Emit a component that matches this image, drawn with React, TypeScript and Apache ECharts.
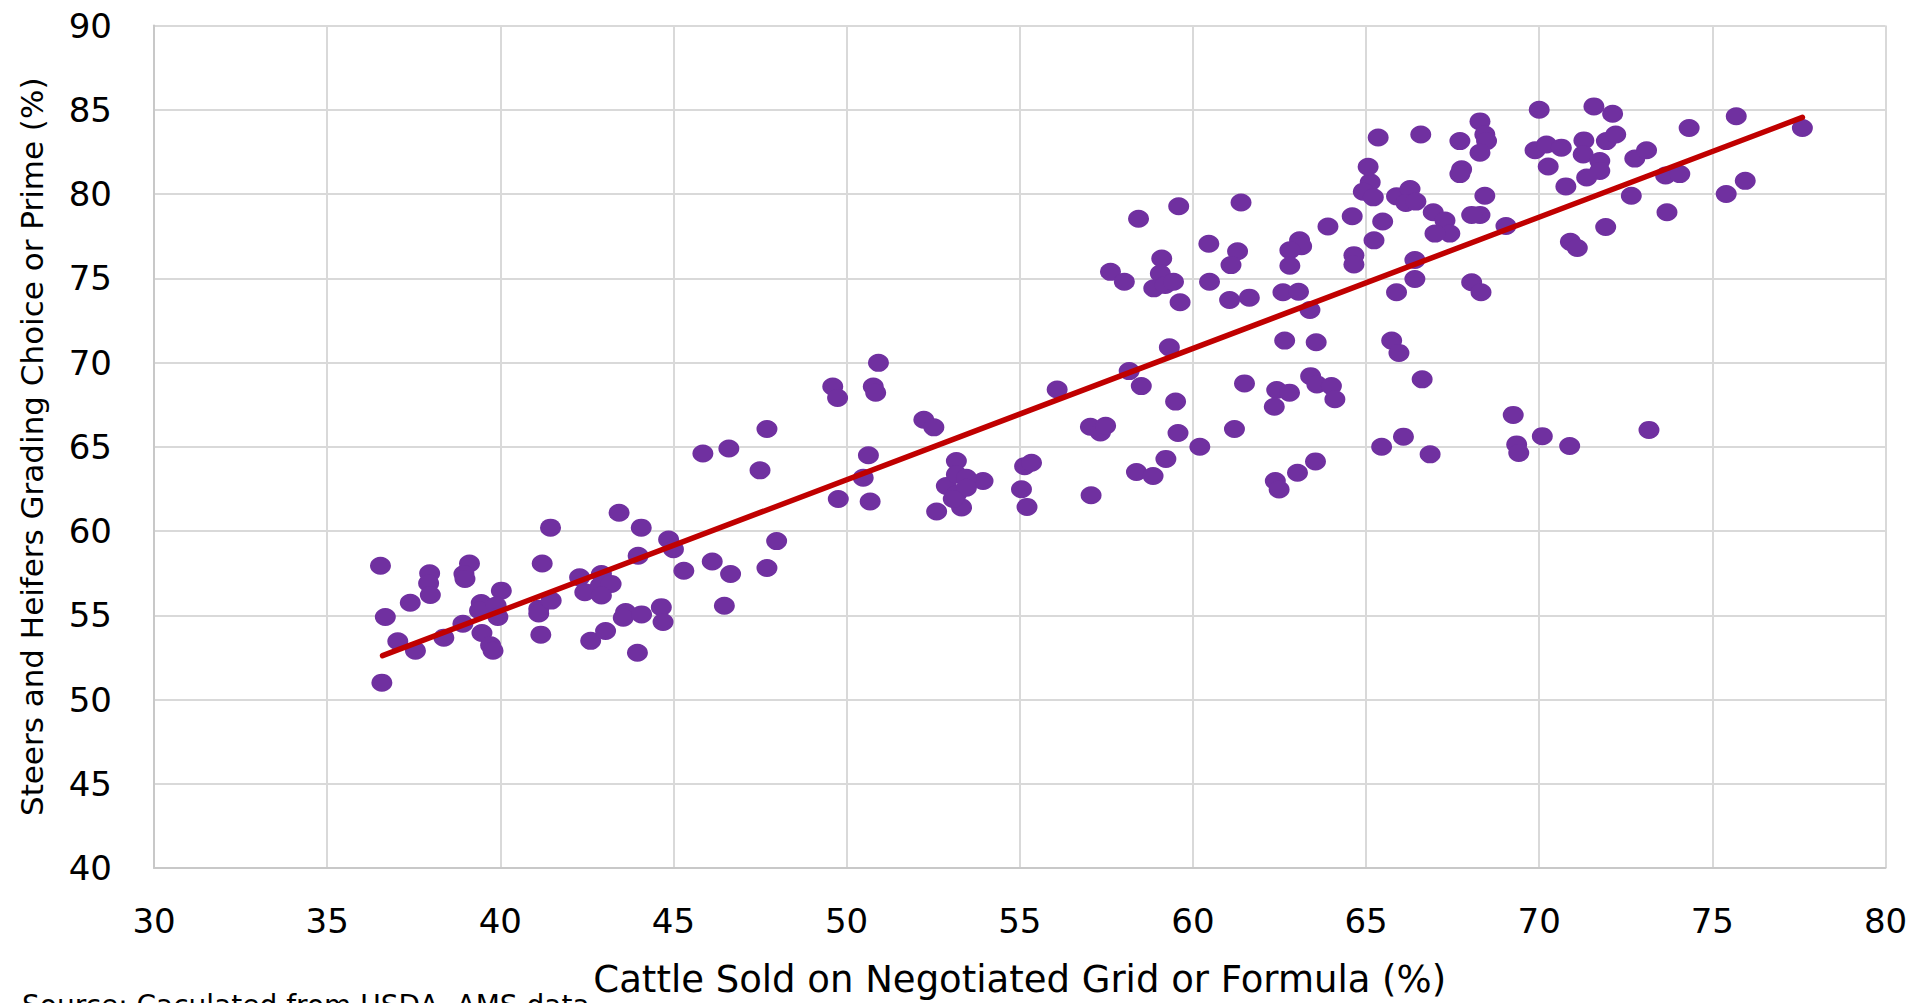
import React, { useEffect, useRef } from "react";
import * as echarts from "echarts";

// Cattle sold on negotiated grid or formula (%)
const cattleGridPct = [
  36.54, 36.58, 36.68, 37.04, 37.55, 37.4, 37.96, 37.93, 37.98, 38.37,
  38.92, 39.11, 38.95, 38.98, 40.03, 39.45, 39.4, 39.88, 39.93, 39.47,
  39.72, 39.79, 41.45, 41.21, 41.11, 41.11, 41.47, 41.17, 42.29, 42.44,
  42.61, 42.92, 42.89, 43.2, 42.92, 43.43, 44.07, 43.98, 43.04, 43.62,
  43.55, 44.08, 43.96, 44.86, 45.0, 45.3, 44.65, 44.7, 46.12, 46.65,
  46.47, 45.85, 46.6, 47.7, 47.5, 47.98, 47.7, 49.6, 49.74, 50.92,
  50.77, 50.84, 52.23, 52.52, 50.63, 50.48, 49.76, 50.68, 56.08, 53.17,
  53.94, 52.6, 53.32, 52.88, 53.17, 53.46, 53.17, 53.46, 53.08, 55.14,
  55.34, 55.05, 55.21, 58.43, 59.59, 61.39, 57.62, 58.02, 59.1, 59.06,
  58.87, 59.2, 59.44, 59.63, 60.46, 60.48, 61.29, 61.1, 61.06, 61.63,
  63.08, 63.14, 62.8, 62.8, 62.6, 63.05, 63.38, 63.9, 64.6, 64.65,
  64.65, 65.23, 65.48, 65.12, 64.92, 65.21, 65.88, 65.88, 65.74, 65.95,
  59.32, 58.16, 58.51, 59.5, 57.04, 57.33, 57.48, 59.57, 60.2, 61.2,
  59.22, 58.37, 58.85, 57.06, 61.49, 62.65, 63.56, 63.4, 63.58, 64.0,
  64.1, 62.42, 62.79, 62.35, 63.54, 63.02, 62.38, 62.49, 65.45, 66.08,
  65.06, 65.35, 66.58, 68.29, 67.71, 68.43, 68.48, 68.29, 67.76, 67.71,
  66.27, 66.15, 66.44, 66.94, 67.28, 67.42, 66.99, 68.43, 68.29, 68.05,
  66.41, 69.04, 70.0, 69.88, 70.21, 70.64, 71.58, 72.12, 71.29, 71.27,
  71.75, 71.75, 71.37, 71.94, 72.21, 70.26, 70.77, 72.76, 73.1, 72.66,
  73.65, 74.06, 74.33, 73.69, 75.69, 75.95, 75.4, 77.6, 71.92, 70.9,
  71.1, 66.41, 68.05, 68.32, 66.62, 69.25, 70.09, 69.35, 69.41, 70.88,
  73.17, 66.85,
];

// Steers and heifers grading Choice or Prime (%)
const choicePrimePct = [
  57.94, 51.0, 54.9, 53.46, 52.9, 55.74, 57.49, 56.9, 56.2, 53.67,
  54.5, 58.07, 57.45, 57.15, 56.46, 55.72, 55.28, 55.58, 54.9, 53.95,
  53.22, 52.9, 60.2, 58.07, 55.38, 55.1, 55.87, 53.85, 57.25, 56.37,
  53.48, 57.45, 56.76, 56.86, 56.17, 61.08, 60.2, 58.53, 54.07, 55.19,
  54.85, 55.05, 52.77, 59.5, 58.92, 57.64, 55.48, 54.6, 58.19, 57.45,
  55.56, 64.6, 64.9, 66.05, 63.6, 59.4, 57.8, 68.57, 67.9, 69.98,
  68.57, 68.2, 66.6, 66.15, 64.5, 63.16, 61.9, 61.75, 68.4, 64.15,
  62.97, 61.16, 61.4, 62.67, 63.36, 63.16, 62.18, 62.57, 61.9, 63.85,
  64.05, 62.48, 61.43, 78.53, 79.27, 79.5, 75.38, 74.79, 76.17, 75.28,
  74.4, 74.6, 74.79, 73.58, 77.05, 74.79, 76.6, 75.78, 73.71, 73.85,
  77.25, 76.9, 76.66, 75.74, 74.17, 74.2, 73.12, 78.07, 78.68, 76.37,
  75.82, 77.25, 78.37, 80.69, 80.14, 79.8, 79.86, 74.17, 71.3, 70.57,
  70.9, 69.49, 68.6, 67.68, 66.19, 65.85, 66.25, 65.82, 65.0, 66.05,
  64.28, 63.5, 63.26, 62.12, 68.76, 71.3, 71.2, 69.19, 68.7, 68.6,
  67.82, 68.37, 68.21, 67.37, 64.13, 63.46, 62.97, 62.46, 65.0, 65.6,
  81.62, 83.35, 83.53, 84.31, 83.14, 83.53, 83.14, 82.45, 81.47, 81.18,
  80.29, 79.47, 79.55, 78.92, 78.43, 77.65, 77.65, 79.9, 78.76, 78.76,
  76.08, 78.1, 85.0, 82.6, 82.94, 82.75, 85.2, 84.76, 83.18, 82.35,
  81.96, 81.37, 80.98, 83.14, 83.53, 81.63, 80.45, 82.1, 82.6, 79.9,
  81.1, 81.18, 83.92, 78.92, 84.61, 80.78, 80.0, 83.92, 78.04, 77.16,
  76.8, 74.96, 74.76, 74.17, 69.0, 66.89, 65.63, 65.14, 64.63, 65.04,
  66.0, 64.55,
];

// Linear trend line end points
const trendX = [36.6, 77.6];
const trendY = [52.6, 84.55];

const xAxisTitle = "Cattle Sold on Negotiated Grid or Formula (%)";
const yAxisTitle = "Steers and Heifers Grading Choice or Prime (%)";
const sourceNote = "Source: Caculated from USDA, AMS data";

const FONT = "DejaVu Sans";

export default function App() {
  const ref = useRef<HTMLDivElement>(null);

  useEffect(() => {
    document.body.style.margin = "0";
    if (!ref.current) return;
    const chart = echarts.init(ref.current, null, { renderer: "svg" });
    const points = cattleGridPct.map((x, i) => [x, choicePrimePct[i]]);
    const trend = trendX.map((x, i) => [x, trendY[i]]);
    chart.setOption({
      animation: false,
      backgroundColor: "#ffffff",
      grid: { left: 154, right: 35.5, top: 25.5, bottom: 130.7, containLabel: false },
      xAxis: {
        type: "value",
        min: 30,
        max: 80,
        interval: 5,
        name: xAxisTitle,
        nameLocation: "middle",
        nameGap: 93,
        nameTextStyle: { fontFamily: FONT, fontSize: 37, color: "#000" },
        axisLine: { show: true, lineStyle: { color: "#C8C8C8", width: 2 } },
        axisTick: { show: false },
        axisLabel: { fontFamily: FONT, fontSize: 34, color: "#000", margin: 36 },
        splitLine: { show: true, lineStyle: { color: "#D9D9D9", width: 2 } },
      },
      yAxis: {
        type: "value",
        min: 40,
        max: 90,
        interval: 5,
        name: yAxisTitle,
        nameLocation: "middle",
        nameGap: 107,
        nameTextStyle: { fontFamily: FONT, fontSize: 31, color: "#000" },
        axisLine: { show: true, lineStyle: { color: "#C8C8C8", width: 2 } },
        axisTick: { show: false },
        axisLabel: { fontFamily: FONT, fontSize: 34, color: "#000", margin: 42 },
        splitLine: { show: true, lineStyle: { color: "#D9D9D9", width: 2 } },
      },
      graphic: [
        {
          type: "text",
          left: 22,
          top: 991,
          style: { text: sourceNote, fontFamily: FONT, fontSize: 28, fill: "#000" },
        },
      ],
      series: [
        {
          type: "scatter",
          data: points,
          symbol: "circle",
          symbolSize: [21, 18],
          itemStyle: { color: "#7030A0", opacity: 1 },
          z: 2,
        },
        {
          type: "line",
          data: trend,
          symbol: "none",
          lineStyle: { color: "#C00000", width: 5.5, cap: "round" },
          z: 3,
        },
      ],
    });
    return () => chart.dispose();
  }, []);

  return <div ref={ref} style={{ width: 1921, height: 1003 }} />;
}
